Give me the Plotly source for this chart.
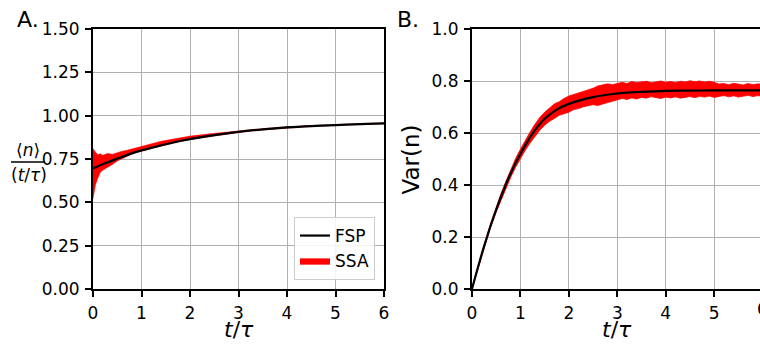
import plotly.graph_objects as go

# ---------------- data ----------------
# Panel A: <n>/(t/tau)
t_fsp = [0, 0.25, 0.5, 0.75, 1.0, 1.25, 1.5, 1.75, 2.0, 2.5, 3.0, 3.5, 4.0, 4.5, 5.0, 5.5, 6.0]
fsp_a = [0.695, 0.725, 0.752, 0.778, 0.800, 0.818, 0.835, 0.851, 0.865, 0.888, 0.907, 0.921, 0.932, 0.940, 0.946, 0.951, 0.955]

t_ssa_a = [0, 0.02, 0.05, 0.1, 0.15, 0.2, 0.3, 0.4, 0.5, 0.6, 0.7, 0.8, 0.9, 1.0, 1.2, 1.4, 1.6, 1.8, 2.0,
           2.5, 3.0, 3.5, 4.0, 4.5, 5.0, 5.5, 6.0]
ssa_a_upper = [0.81, 0.80, 0.79, 0.775, 0.78, 0.772, 0.782, 0.778, 0.788, 0.795, 0.800, 0.808, 0.815, 0.824,
               0.838, 0.852, 0.862, 0.874, 0.882, 0.898, 0.913, 0.925, 0.936, 0.943, 0.949, 0.954, 0.958]
ssa_a_lower = [0.52, 0.55, 0.60, 0.64, 0.672, 0.685, 0.700, 0.718, 0.738, 0.752, 0.765, 0.778, 0.788, 0.795,
               0.810, 0.826, 0.840, 0.852, 0.862, 0.884, 0.903, 0.918, 0.929, 0.937, 0.944, 0.949, 0.953]

# Panel B: Var(n)
fsp_b = [0.0, 0.165, 0.305, 0.425, 0.52, 0.598, 0.655, 0.69, 0.712, 0.738, 0.752, 0.758, 0.762, 0.763, 0.764, 0.764, 0.764]

t_ssa_b = [round(0.1 * i, 1) for i in range(61)]
ssa_b_upper = [0.004, 0.072, 0.138, 0.201, 0.261, 0.315, 0.367, 0.414, 0.460, 0.502,
               0.538, 0.573, 0.604, 0.634, 0.660, 0.680, 0.697, 0.712, 0.720, 0.733,
               0.742, 0.748, 0.755, 0.762, 0.768, 0.772, 0.781, 0.784, 0.789, 0.786,
               0.792, 0.795, 0.790, 0.798, 0.794, 0.796, 0.799, 0.793, 0.797, 0.800,
               0.795, 0.798, 0.794, 0.799, 0.796, 0.801, 0.797, 0.800, 0.796, 0.799,
               0.795, 0.788, 0.790, 0.786, 0.791, 0.788, 0.785, 0.790, 0.786, 0.789, 0.787]
ssa_b_lower = [0.0, 0.064, 0.128, 0.190, 0.248, 0.296, 0.343, 0.386, 0.430, 0.468,
               0.502, 0.534, 0.562, 0.588, 0.611, 0.630, 0.645, 0.656, 0.668, 0.674,
               0.680, 0.690, 0.694, 0.701, 0.704, 0.709, 0.706, 0.713, 0.717, 0.722,
               0.727, 0.733, 0.729, 0.735, 0.731, 0.737, 0.734, 0.740, 0.736, 0.733,
               0.738, 0.735, 0.739, 0.734, 0.737, 0.740, 0.736, 0.741, 0.738, 0.742,
               0.737, 0.741, 0.744, 0.739, 0.743, 0.738, 0.742, 0.745, 0.740, 0.744, 0.741]

x_ticks = [0, 1, 2, 3, 4, 5, 6]
ya_ticks = [0.0, 0.25, 0.5, 0.75, 1.0, 1.25, 1.5]
yb_ticks = [0.0, 0.2, 0.4, 0.6, 0.8, 1.0]

# ---------------- figure ----------------
W, H = 760, 344
ML, MR, MT, MB = 93, 0, 29, 55
PW, PH = W - ML - MR, H - MT - MB
FONT = "DejaVu Sans"
RED = "#ff0000"
TICK_SIZE = 17


def px_x(p):
    return (p - ML) / PW


def px_y(p):
    return (H - MB - p) / PH


fig = go.Figure()

# Panel A SSA band
fig.add_trace(go.Scatter(x=t_ssa_a, y=ssa_a_lower, mode="lines", line=dict(color=RED, width=0.5),
                         showlegend=False, hoverinfo="skip", xaxis="x", yaxis="y"))
fig.add_trace(go.Scatter(x=t_ssa_a, y=ssa_a_upper, mode="lines", line=dict(color=RED, width=0.5),
                         fill="tonexty", fillcolor=RED, name="SSA", legendrank=2,
                         xaxis="x", yaxis="y"))
fig.add_trace(go.Scatter(x=t_fsp, y=fsp_a, mode="lines", line=dict(color="black", width=2.2, shape="spline"),
                         name="FSP", legendrank=1, xaxis="x", yaxis="y"))

# Panel B SSA band
fig.add_trace(go.Scatter(x=t_ssa_b, y=ssa_b_lower, mode="lines", line=dict(color=RED, width=0.8),
                         showlegend=False, hoverinfo="skip", xaxis="x2", yaxis="y2"))
fig.add_trace(go.Scatter(x=t_ssa_b, y=ssa_b_upper, mode="lines", line=dict(color=RED, width=0.8),
                         fill="tonexty", fillcolor=RED, showlegend=False, xaxis="x2", yaxis="y2"))
fig.add_trace(go.Scatter(x=t_fsp, y=fsp_b, mode="lines", line=dict(color="black", width=2.2, shape="spline"),
                         showlegend=False, xaxis="x2", yaxis="y2"))

axis_common = dict(
    showline=True, linecolor="black", linewidth=2,
    ticks="outside", ticklen=6, tickwidth=2, tickcolor="black",
    showgrid=True, gridcolor="#b0b0b0", gridwidth=1,
    zeroline=False, automargin=False, ticklabelstandoff=2,
    tickfont=dict(family=FONT, size=TICK_SIZE, color="black"),
)

xa_end = px_x(384)
xb_start = px_x(472)

fig.update_layout(
    width=W, height=H,
    margin=dict(l=ML, r=MR, t=MT, b=MB, autoexpand=False),
    paper_bgcolor="white", plot_bgcolor="white",
    font=dict(family=FONT, size=TICK_SIZE, color="black"),
    xaxis=dict(domain=[0, xa_end], range=[0, 6], tickvals=x_ticks, mirror=True, anchor="y", **axis_common),
    yaxis=dict(domain=[0, 1], range=[0, 1.5], tickvals=ya_ticks, tickformat=".2f", mirror=True, anchor="x",
               **axis_common),
    xaxis2=dict(domain=[xb_start, 1], range=[0, 5.946], tickvals=x_ticks, mirror=True, anchor="y2",
                **axis_common),
    yaxis2=dict(domain=[0, 1], range=[0, 1.0], tickvals=yb_ticks, tickformat=".1f", mirror=False,
                anchor="x2", **axis_common),
    legend=dict(x=px_x(375), y=px_y(280), xanchor="right", yanchor="bottom", traceorder="normal",
                bgcolor="rgba(255,255,255,0.85)", bordercolor="#cccccc", borderwidth=1,
                font=dict(family=FONT, size=TICK_SIZE, color="black"), tracegroupgap=0),
    showlegend=True,
)

ann = []
# panel labels
ann.append(dict(text="A.", x=px_x(15), y=px_y(19.5), xanchor="left", yanchor="middle", showarrow=False,
                xref="paper", yref="paper", font=dict(family=FONT, size=22, color="black")))
ann.append(dict(text="B.", x=px_x(395), y=px_y(19.5), xanchor="left", yanchor="middle", showarrow=False,
                xref="paper", yref="paper", font=dict(family=FONT, size=22, color="black")))
# x titles
for cx in [(93 + 384) / 2, (472 + 762.6) / 2]:
    ann.append(dict(text="<i>t</i>/<i>τ</i>", x=px_x(cx), y=px_y(330), xanchor="center", yanchor="middle",
                    showarrow=False, xref="paper", yref="paper", font=dict(family=FONT, size=22, color="black")))
# Var(n)
ann.append(dict(text="Var(n)", x=px_x(410), y=px_y(159.5), xanchor="center", yanchor="middle", textangle=-90,
                showarrow=False, xref="paper", yref="paper", font=dict(family=FONT, size=23, color="black")))
# fraction ylabel for A
ann.append(dict(text="⟨<i>n</i>⟩", x=px_x(28), y=px_y(150), xanchor="center", yanchor="middle",
                showarrow=False, xref="paper", yref="paper", font=dict(family=FONT, size=17, color="black")))
ann.append(dict(text="(<i>t</i>/<i>τ</i>)", x=px_x(29), y=px_y(175), xanchor="center", yanchor="middle",
                showarrow=False, xref="paper", yref="paper", font=dict(family=FONT, size=17, color="black")))
# partially visible tick label "6" of panel B
ann.append(dict(text="6", x=px_x(762.6), y=0, xanchor="center", yanchor="top", yshift=-8,
                showarrow=False, xref="paper", yref="paper", font=dict(family=FONT, size=TICK_SIZE, color="black")))
fig.update_layout(annotations=ann)

fig.add_shape(type="line", xref="paper", yref="paper", x0=px_x(11), x1=px_x(45), y0=px_y(162), y1=px_y(162),
              line=dict(color="black", width=1.5))

fig.write_html("out.html", config={"displayModeBar": False},
               post_script="document.body.style.margin='0px';")
